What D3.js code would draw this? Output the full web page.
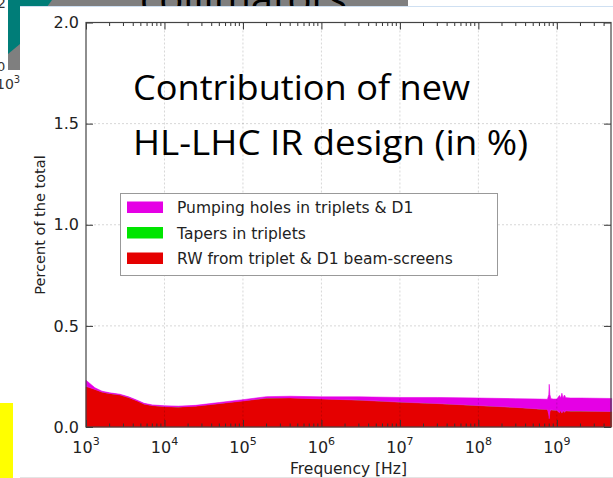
<!DOCTYPE html>
<html>
<head>
<meta charset="utf-8">
<script src="https://cdn.jsdelivr.net/npm/d3@7"></script>
<style>
  body { margin: 0; background: #fff; }
  svg { display: block; }
</style>
</head>
<body>
<svg id="root" width="613" height="478"></svg>
<script>

// data
const freq = [1e3, 1.3e3, 1.6e3, 2e3, 2.7e3, 3.5e3, 4.5e3, 5.5e3, 7e3, 1e4, 1.5e4, 2.5e4, 5e4, 1e5, 2e5, 4e5, 1e6, 3e6, 1e7, 3e7, 1e8, 3e8, 6e8,
    7.6e8, 7.9e8, 8.0e8, 8.15e8, 8.4e8, 9e8, 1e9, 1.08e9, 1.12e9, 1.16e9, 1.2e9, 1.25e9, 1.3e9, 1.5e9, 2e9, 5e9];
const rwScreens = [0.200, 0.185, 0.172, 0.165, 0.158, 0.145, 0.128, 0.113, 0.105, 0.100, 0.098, 0.102, 0.115, 0.128, 0.142, 0.143, 0.138, 0.132, 0.122, 0.115, 0.105, 0.096, 0.088,
    0.086, 0.060, 0.040, 0.075, 0.084, 0.083, 0.082, 0.070, 0.082, 0.068, 0.080, 0.072, 0.079, 0.078, 0.078, 0.076];
const tapers = [0.001, 0.001, 0.001, 0.001, 0.001, 0.001, 0.001, 0.001, 0.001, 0.001, 0.001, 0.001, 0.001, 0.001, 0.001, 0.001, 0.001, 0.001, 0.001, 0.001, 0.001, 0.001, 0.001,
    0.001, 0.001, 0.001, 0.001, 0.001, 0.001, 0.001, 0.001, 0.001, 0.001, 0.001, 0.001, 0.001, 0.001, 0.001, 0.001];
const pumpingHoles = [0.030, 0.008, 0.004, 0.003, 0.003, 0.003, 0.003, 0.003, 0.003, 0.004, 0.004, 0.004, 0.005, 0.006, 0.007, 0.008, 0.010, 0.016, 0.023, 0.030, 0.037, 0.043, 0.049,
    0.050, 0.100, 0.170, 0.085, 0.055, 0.054, 0.055, 0.085, 0.060, 0.098, 0.062, 0.085, 0.065, 0.064, 0.064, 0.064];

const seriesKeys = ['rw', 'tapers', 'holes'];
const seriesColors = { rw: '#e50000', tapers: '#00e500', holes: '#e500e5' };
const legendLabels = [
    ['holes', 'Pumping holes in triplets & D1'],
    ['tapers', 'Tapers in triplets'],
    ['rw', 'RW from triplet & D1 beam-screens']
];
const xTicks = [1e3, 1e4, 1e5, 1e6, 1e7, 1e8, 1e9];
const yTicks = [0, 0.5, 1.0, 1.5, 2.0];
const titleLines = ['Contribution of new', 'HL-LHC IR design (in %)'];

const root = d3.select('#root');
const mplFont = 'DejaVu Sans, sans-serif';

// slide leftovers behind the panel
root.append('rect').attr('x', 8).attr('y', 0).attr('width', 400).attr('height', 6).attr('fill', '#7f7f7f');
root.append('rect').attr('x', 8).attr('y', 0).attr('width', 12).attr('height', 70).attr('fill', '#7f7f7f');
root.append('polygon').attr('points', '8,0 52,0 20,44 8,54').attr('fill', '#007d78');
root.append('text').attr('x', 140).attr('y', 14).attr('font-family', 'Open Sans, sans-serif')
    .attr('font-size', 44).attr('textLength', 207).attr('lengthAdjust', 'spacingAndGlyphs').attr('fill', '#000').text('collimators');
root.append('text').attr('x', -3).attr('y', 8).attr('font-family', mplFont).attr('font-size', 14).attr('fill', '#333').text('2');
root.append('text').attr('x', -3).attr('y', 71).attr('font-family', mplFont).attr('font-size', 13).attr('fill', '#333').text('0');
const tl = root.append('text').attr('x', -4).attr('y', 89).attr('font-family', mplFont).attr('font-size', 14).attr('fill', '#333');
tl.append('tspan').text('10');
tl.append('tspan').attr('dy', -6).attr('font-size', 10).text('3');

// white panel
root.append('rect').attr('x', 20).attr('y', 6).attr('width', 600).attr('height', 480).attr('fill', '#fff');
root.append('line').attr('x1', 20).attr('x2', 613).attr('y1', 6.5).attr('y2', 6.5).attr('stroke', '#cfe0f2');
root.append('line').attr('x1', 20).attr('x2', 613).attr('y1', 477.5).attr('y2', 477.5).attr('stroke', '#e4e4e4');
root.append('rect').attr('x', 0).attr('y', 403).attr('width', 13).attr('height', 75).attr('fill', '#ffff00');

// plot area
const pLeft = 86, pRight = 611, pTop = 22.5, pBottom = 427;
const x = d3.scaleLog().domain([1e3, 4.9e9]).range([pLeft, pRight]);
const y = d3.scaleLinear().domain([0, 2]).range([pBottom, pTop]);

const table = freq.map((f, i) => ({ f: f, rw: rwScreens[i], tapers: tapers[i], holes: pumpingHoles[i] }));
const stacked = d3.stack().keys(seriesKeys)(table);

const area = d3.area()
    .x(d => x(d.data.f))
    .y0(d => y(d[0]))
    .y1(d => y(d[1]));

const plot = root.append('g');
plot.selectAll('path.layer')
    .data(stacked)
    .enter()
    .append('path')
    .attr('class', 'layer')
    .attr('d', area)
    .attr('fill', d => seriesColors[d.key])
    .attr('stroke', d => d.key === 'tapers' ? 'none' : seriesColors[d.key])
    .attr('stroke-width', 0.6);

// grid on top of the fills
const grid = root.append('g').attr('stroke', 'rgba(0,0,0,0.16)').attr('stroke-dasharray', '2,2');
grid.selectAll('line.vx')
    .data(xTicks.slice(1))
    .enter()
    .append('line')
    .attr('x1', d => x(d)).attr('x2', d => x(d))
    .attr('y1', pTop).attr('y2', pBottom);
grid.selectAll('line.hy')
    .data(yTicks.slice(1, -1))
    .enter()
    .append('line')
    .attr('x1', pLeft).attr('x2', pRight)
    .attr('y1', d => y(d)).attr('y2', d => y(d));

// axes, ticks pointing inward
const xAxis = root.append('g')
    .attr('transform', `translate(0,${pBottom})`)
    .call(d3.axisBottom(x).tickValues(xTicks).tickSize(-7).tickPadding(8).tickFormat(''));
xAxis.select('.domain').remove();
xAxis.selectAll('.tick line').attr('stroke', '#333');

const xTop = root.append('g')
    .attr('transform', `translate(0,${pTop})`)
    .call(d3.axisTop(x).tickValues(xTicks).tickSize(-7).tickFormat(''));
xTop.select('.domain').remove();
xTop.selectAll('.tick line').attr('stroke', '#333');

const minor = x.ticks().filter(t => xTicks.indexOf(t) < 0);
const minorG = root.append('g').attr('stroke', '#333');
minorG.selectAll('line.b').data(minor).enter().append('line')
    .attr('x1', d => x(d)).attr('x2', d => x(d)).attr('y1', pBottom).attr('y2', pBottom - 3.5);
minorG.selectAll('line.t').data(minor).enter().append('line')
    .attr('x1', d => x(d)).attr('x2', d => x(d)).attr('y1', pTop).attr('y2', pTop + 3.5);

const yAxis = root.append('g')
    .attr('transform', `translate(${pLeft},0)`)
    .call(d3.axisLeft(y).tickValues(yTicks).tickSize(-7).tickPadding(7).tickFormat(d3.format('.1f')));
yAxis.select('.domain').remove();
yAxis.selectAll('.tick line').attr('stroke', '#333');
yAxis.selectAll('text').attr('font-family', mplFont).attr('font-size', 16).attr('fill', '#222');

const yRight = root.append('g')
    .attr('transform', `translate(${pRight},0)`)
    .call(d3.axisRight(y).tickValues(yTicks).tickSize(-7).tickFormat(''));
yRight.select('.domain').remove();
yRight.selectAll('.tick line').attr('stroke', '#333');

// x tick labels as 10^n
root.append('g').selectAll('text')
    .data(xTicks)
    .enter()
    .append('text')
    .attr('x', d => x(d))
    .attr('y', 453)
    .attr('text-anchor', 'middle')
    .attr('font-family', mplFont)
    .attr('font-size', 16)
    .attr('fill', '#222')
    .each(function (d) {
        const t = d3.select(this);
        t.append('tspan').text('10');
        t.append('tspan').attr('dy', -8).attr('font-size', 11).text(Math.round(Math.log10(d)));
    });

// frame
root.append('rect')
    .attr('x', pLeft).attr('y', pTop)
    .attr('width', pRight - pLeft).attr('height', pBottom - pTop)
    .attr('fill', 'none').attr('stroke', '#444').attr('stroke-width', 1.2);

root.append('text')
    .attr('x', (pLeft + pRight) / 2).attr('y', 474)
    .attr('text-anchor', 'middle')
    .attr('font-family', mplFont).attr('font-size', 15.5).attr('fill', '#222')
    .text('Frequency [Hz]');

root.append('text')
    .attr('transform', 'translate(45,225) rotate(-90)')
    .attr('text-anchor', 'middle')
    .attr('font-family', mplFont).attr('font-size', 14.5).attr('fill', '#222')
    .text('Percent of the total');

// legend
const legend = root.append('g');
legend.append('rect')
    .attr('x', 120.5).attr('y', 193.5).attr('width', 377).attr('height', 82)
    .attr('fill', '#fff').attr('stroke', '#999');
legend.selectAll('g.item')
    .data(legendLabels)
    .enter()
    .append('g')
    .attr('transform', (d, i) => `translate(127,${201.5 + i * 25.5})`)
    .each(function (d) {
        const g = d3.select(this);
        g.append('rect').attr('width', 36).attr('height', 11.5).attr('fill', seriesColors[d[0]]);
        g.append('text').attr('x', 50).attr('y', 11.5)
            .attr('font-family', mplFont).attr('font-size', 15.5).attr('fill', '#222')
            .text(d[1]);
    });

// overlaid slide title
root.append('g').selectAll('text')
    .data(titleLines)
    .enter()
    .append('text')
    .attr('x', 133)
    .attr('y', (d, i) => 100 + i * 55)
    .attr('font-family', 'Open Sans, sans-serif')
    .attr('font-size', 35)
    .attr('textLength', (d, i) => i === 0 ? 337 : 395)
    .attr('lengthAdjust', 'spacingAndGlyphs')
    .attr('fill', '#000')
    .text(d => d);

</script>
</body>
</html>
